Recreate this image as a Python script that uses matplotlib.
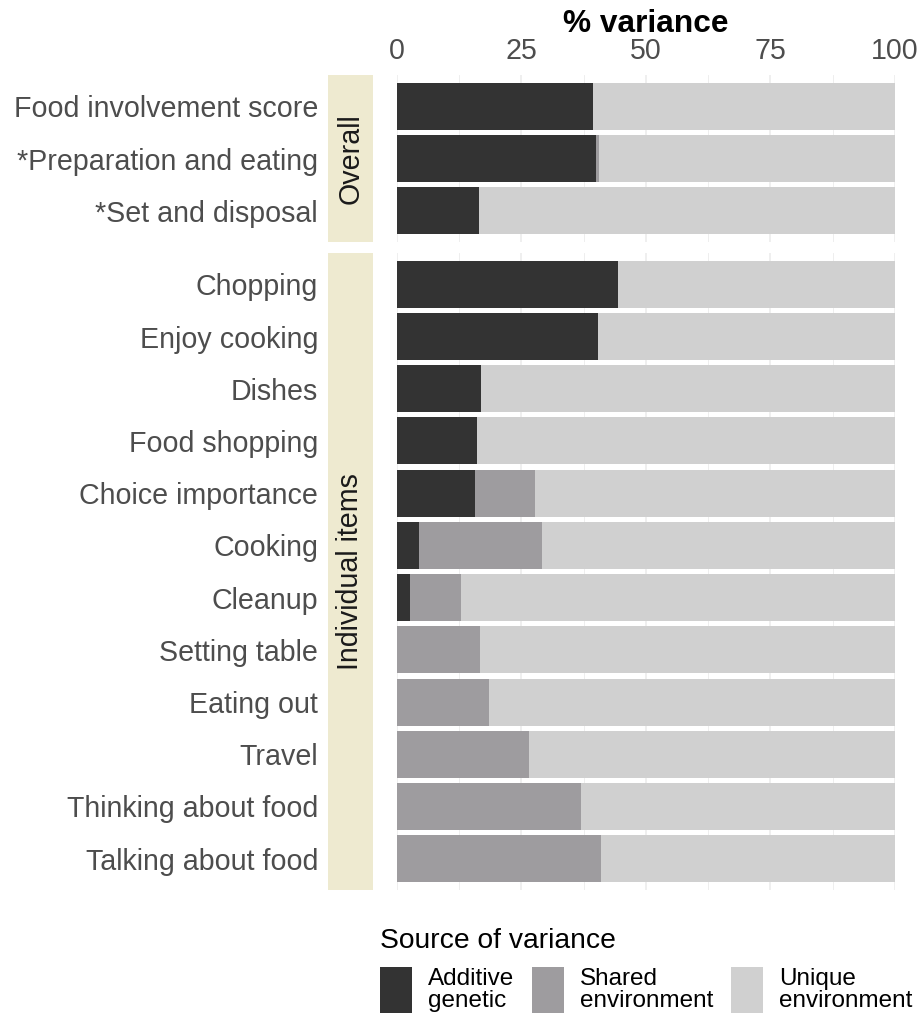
import matplotlib
matplotlib.use("Agg")
import matplotlib.pyplot as plt
from matplotlib.patches import Rectangle
import numpy as np

plt.rcParams['font.family'] = ['Liberation Sans', 'DejaVu Sans']

# ---------------- data ----------------
overall_labels = ["Food involvement score", "*Preparation and eating", "*Set and disposal"]
overall_additive = [39.4, 40.0, 16.5]
overall_shared = [0.0, 0.6, 0.0]
overall_unique = [60.6, 59.4, 83.5]

item_labels = ["Chopping", "Enjoy cooking", "Dishes", "Food shopping", "Choice importance",
               "Cooking", "Cleanup", "Setting table", "Eating out", "Travel",
               "Thinking about food", "Talking about food"]
item_additive = [44.3, 40.3, 16.8, 16.0, 15.7, 4.5, 2.6, 0.0, 0.0, 0.0, 0.0, 0.0]
item_shared = [0.0, 0.0, 0.0, 0.0, 12.0, 24.7, 10.3, 16.7, 18.5, 26.6, 37.0, 41.0]
item_unique = [55.7, 59.7, 83.2, 84.0, 72.3, 70.8, 87.1, 83.3, 81.5, 73.4, 63.0, 59.0]

facet_names = ["Overall", "Individual items"]
source_names = ["Additive\ngenetic", "Shared\nenvironment", "Unique\nenvironment"]
source_colors = ["#333333", "#9E9C9F", "#D0D0D0"]
x_ticks = [0, 25, 50, 75, 100]
x_title = "% variance"
legend_title = "Source of variance"

# ---------------- layout ----------------
W, H = 920, 1016
fig = plt.figure(figsize=(W / 100, H / 100), dpi=100)

def fx(px):
    return px / W

def fy(py):
    return 1 - py / H

panel_left, panel_right = 397, 895
strip_left, strip_right = 328, 373
panels = [(75, 242), (253, 890)]

label_color = "#4D4D4D"
grid_color = "#EBEBEB"

data_sets = [
    (overall_labels, overall_additive, overall_shared, overall_unique),
    (item_labels, item_additive, item_shared, item_unique),
]

for i, ((top, bottom), (labels, a, c, e)) in enumerate(zip(panels, data_sets)):
    ax = fig.add_axes([fx(panel_left), fy(bottom), fx(panel_right - panel_left), (bottom - top) / H])
    n = len(labels)
    pos = np.arange(n)
    a = np.array(a); c = np.array(c); e = np.array(e)
    ax.barh(pos, a, height=0.9, color=source_colors[0], zorder=2)
    ax.barh(pos, c, left=a, height=0.9, color=source_colors[1], zorder=2)
    ax.barh(pos, e, left=a + c, height=0.9, color=source_colors[2], zorder=2)
    ax.set_xlim(0, 100)
    ax.set_ylim(n - 0.4, -0.6)
    ax.set_xticks(x_ticks)
    ax.set_xticks([12.5, 37.5, 62.5, 87.5], minor=True)
    ax.grid(True, axis='x', which='major', color=grid_color, lw=1.1, zorder=0)
    ax.grid(True, axis='x', which='minor', color=grid_color, lw=0.6, zorder=0)
    ax.set_axisbelow(True)
    for s in ax.spines.values():
        s.set_visible(False)
    ax.set_yticks(pos)
    ax.set_yticklabels(labels, fontsize=20.6, color=label_color)
    ax.tick_params(axis='y', length=0, pad=(panel_left - 318) * 0.72)
    ax.tick_params(axis='x', which='both', length=0)
    if i == 0:
        ax.xaxis.tick_top()
        ax.tick_params(axis='x', labeltop=True, labelbottom=False, labelsize=20.6,
                       labelcolor=label_color, pad=7)
    else:
        ax.tick_params(axis='x', labeltop=False, labelbottom=False)

    # strip
    sax = fig.add_axes([fx(strip_left), fy(bottom), fx(strip_right - strip_left), (bottom - top) / H])
    sax.set_facecolor("#EEEAD0")
    sax.set_xticks([]); sax.set_yticks([])
    for s in sax.spines.values():
        s.set_visible(False)
    sax.text(0.5, 0.5, facet_names[i], rotation=90, ha='center', va='center',
             fontsize=20.6, color="#1A1A1A", transform=sax.transAxes)

# axis title
fig.text(fx((panel_left + panel_right) / 2), fy(32), x_title, ha='center', va='baseline',
         fontsize=22.8, fontweight='bold', color='black')

# legend
fig.text(fx(380), fy(948), legend_title, ha='left', va='baseline', fontsize=20.3, color='black')
key_x = [380, 532, 731]
for kx, name, col in zip(key_x, source_names, source_colors):
    fig.add_artist(Rectangle((fx(kx), fy(1013)), fx(32), 46 / H, transform=fig.transFigure,
                             facecolor=col, edgecolor='none'))
    fig.text(fx(kx + 48), fy(990), name, ha='left', va='center', fontsize=17.5,
             color='black', linespacing=1.05)

fig.savefig("out.png", dpi=100)
